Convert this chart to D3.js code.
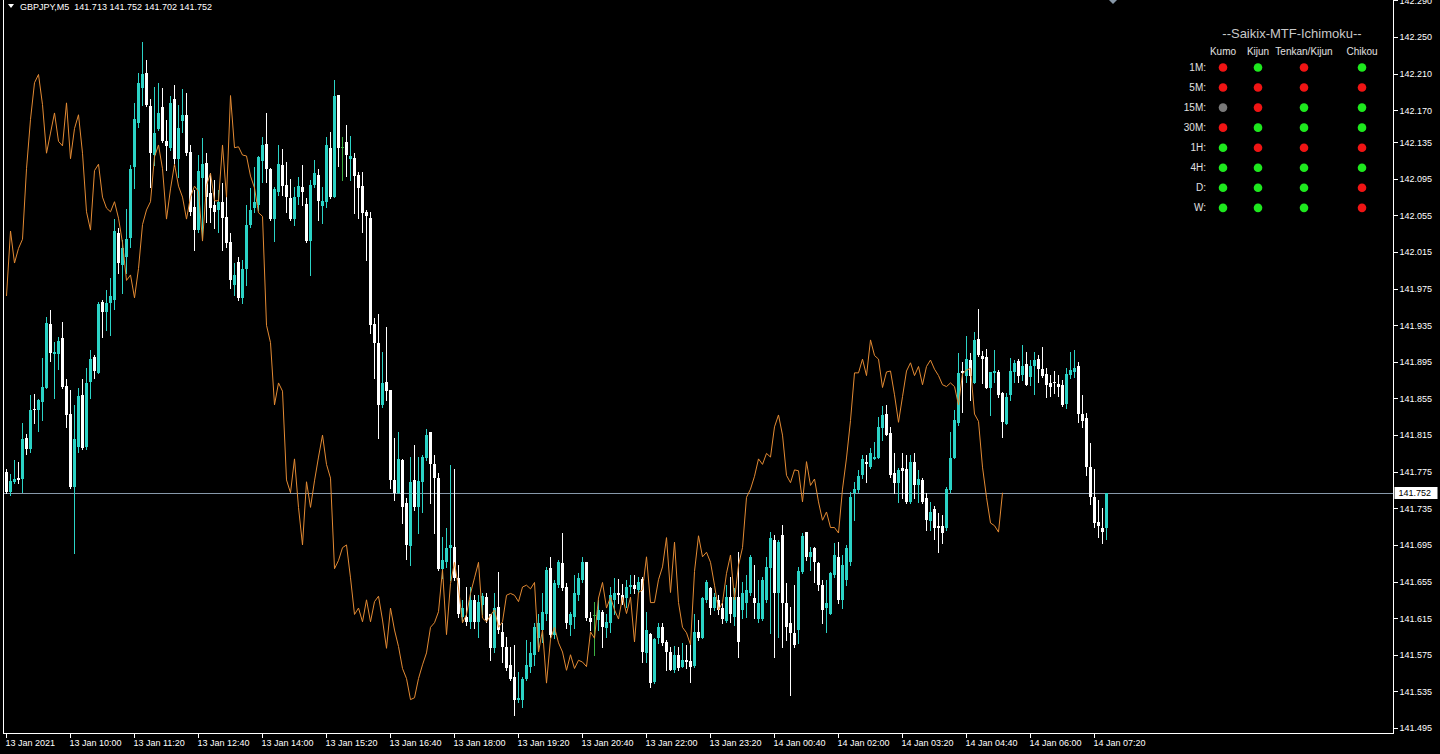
<!DOCTYPE html>
<html><head><meta charset="utf-8">
<script src="https://cdn.jsdelivr.net/npm/d3@7"></script>
<style>
html,body{margin:0;padding:0;background:#000;overflow:hidden}
svg{display:block}
text{font-family:"Liberation Sans",Arial,sans-serif}
</style></head><body>
<svg id="c" width="1440" height="754"></svg>
<script>
const symbol = "GBPJPY,M5";
const lastQuote = ["141.713","141.752","141.702","141.752"];
const lastPrice = 141.752;
const open = [141.775,141.753,141.764,141.768,141.767,141.812,141.800,141.844,141.842,141.851,141.867,141.936,141.904,141.904,141.921,141.869,141.838,141.758,141.802,141.859,141.802,141.873,141.900,141.883,141.960,141.949,141.959,141.963,142.036,142.001,142.010,142.030,142.108,142.156,142.194,142.211,142.175,142.121,142.149,142.173,142.136,142.129,142.182,142.117,142.158,142.165,142.124,142.064,142.039,142.096,142.112,142.079,142.066,142.061,142.070,142.053,142.026,141.979,142.004,141.965,141.997,142.045,142.063,142.066,142.114,142.133,142.106,142.051,142.081,142.110,142.088,142.074,142.051,142.075,142.086,142.068,142.027,142.088,142.099,142.065,142.070,142.129,142.075,142.187,142.130,142.135,142.117,142.118,142.099,142.087,142.059,142.052,141.936,141.916,141.848,141.873,141.864,141.766,141.752,141.788,141.741,141.694,141.766,141.736,141.764,141.790,141.818,141.783,141.768,141.669,141.676,141.692,141.693,141.659,141.616,141.616,141.611,141.635,141.611,141.629,141.638,141.619,141.582,141.627,141.600,141.584,141.564,141.551,141.526,141.526,141.549,141.562,141.575,141.593,141.602,141.620,141.670,141.597,141.651,141.675,141.649,141.607,141.616,141.640,141.657,141.676,141.615,141.618,141.613,141.622,141.604,141.610,141.635,141.642,141.640,141.637,141.649,141.651,141.646,141.658,141.577,141.598,141.545,141.593,141.605,141.589,141.578,141.558,141.575,141.562,141.569,141.568,141.563,141.600,141.593,141.635,141.648,141.626,141.635,141.626,141.612,141.638,141.616,141.638,141.624,141.632,141.642,141.637,141.614,141.614,141.635,141.670,141.700,141.643,141.706,141.632,141.610,141.599,141.602,141.665,141.709,141.682,141.692,141.675,141.651,141.626,141.620,141.662,141.682,141.635,141.657,141.676,141.752,141.755,141.771,141.786,141.780,141.789,141.790,141.823,141.838,141.817,141.774,141.763,141.779,141.778,141.742,141.786,141.760,141.766,141.746,141.721,141.734,141.716,141.716,141.713,141.755,141.790,141.828,141.885,141.880,141.897,141.872,141.920,141.901,141.900,141.867,141.883,141.884,141.861,141.827,141.859,141.884,141.896,141.881,141.893,141.878,141.890,141.898,141.887,141.882,141.872,141.873,141.871,141.870,141.849,141.881,141.884,141.890,141.838,141.834,141.780,141.747,141.720,141.714,141.713];
const high = [141.778,141.772,141.788,141.786,141.828,141.816,141.859,141.860,141.854,141.899,141.944,141.952,141.917,141.922,141.939,141.876,141.864,141.848,141.866,141.876,141.888,141.908,141.903,141.960,141.963,141.973,141.987,142.051,142.041,142.028,142.062,142.110,142.178,142.211,142.245,142.225,142.182,142.195,142.200,142.194,142.159,142.185,142.197,142.176,142.193,142.189,142.132,142.083,142.121,142.140,142.123,142.101,142.094,142.083,142.090,142.075,142.036,142.003,142.010,142.006,142.066,142.085,142.108,142.120,142.141,142.167,142.107,142.086,142.132,142.128,142.113,142.095,142.086,142.097,142.110,142.074,142.094,142.116,142.106,142.086,142.141,142.146,142.203,142.187,142.141,142.154,142.142,142.123,142.102,142.102,142.061,142.059,141.943,141.947,141.906,141.933,141.864,141.812,141.818,141.789,141.746,141.791,141.804,141.791,141.793,141.822,141.818,141.793,141.774,141.704,141.713,141.782,141.778,141.673,141.635,141.649,141.649,141.640,141.640,141.642,141.642,141.620,141.642,141.665,141.610,141.594,141.584,141.586,141.556,141.551,141.591,141.589,141.610,141.620,141.642,141.671,141.682,141.657,141.678,141.708,141.653,141.622,141.662,141.664,141.682,141.676,141.622,141.633,141.635,141.624,141.620,141.649,141.659,141.658,141.652,141.657,141.662,141.662,141.660,141.660,141.622,141.599,141.593,141.610,141.610,141.591,141.584,141.585,141.584,141.588,141.586,141.588,141.620,141.613,141.638,141.657,141.649,141.642,141.640,141.631,141.651,141.660,141.648,141.687,141.654,141.662,141.684,141.673,141.657,141.660,141.682,141.709,141.706,141.700,141.717,141.653,141.627,141.651,141.671,141.708,141.709,141.693,141.693,141.676,141.657,141.657,141.665,141.697,141.698,141.684,141.695,141.753,141.764,141.777,141.793,141.793,141.801,141.807,141.835,141.847,141.848,141.824,141.795,141.779,141.795,141.793,141.793,141.795,141.777,141.768,141.752,141.742,141.738,141.730,141.728,141.758,141.818,141.842,141.905,141.895,141.923,141.905,141.928,141.953,141.907,141.909,141.884,141.908,141.886,141.862,141.861,141.899,141.897,141.898,141.913,141.906,141.897,141.906,141.902,141.911,141.888,141.881,141.885,141.881,141.875,141.888,141.906,141.908,141.895,141.859,141.839,141.806,141.778,141.744,141.735,141.752];
const low = [141.752,141.750,141.763,141.763,141.753,141.794,141.796,141.828,141.820,141.831,141.867,141.896,141.855,141.887,141.867,141.824,141.757,141.686,141.796,141.800,141.800,141.855,141.877,141.883,141.922,141.930,141.924,141.953,141.992,141.970,141.992,142.020,142.085,142.152,142.176,142.175,142.086,142.110,142.148,142.135,142.105,142.126,142.109,142.097,142.146,142.121,142.055,142.017,142.037,142.028,142.048,142.048,142.041,142.037,142.017,142.020,141.976,141.968,141.963,141.959,141.979,142.042,142.059,142.061,142.092,142.092,142.050,142.027,142.077,142.077,142.059,142.050,142.045,142.068,142.066,142.026,141.990,142.086,142.050,142.047,142.064,142.074,142.075,142.109,142.094,142.098,142.094,142.058,142.052,142.037,142.006,141.927,141.877,141.812,141.846,141.853,141.757,141.744,141.752,141.719,141.680,141.673,141.733,141.708,141.731,141.788,141.741,141.708,141.668,141.659,141.671,141.657,141.657,141.616,141.611,141.607,141.604,141.604,141.594,141.620,141.611,141.569,141.578,141.599,141.567,141.558,141.547,141.509,141.523,141.518,141.547,141.556,141.564,141.580,141.589,141.613,141.594,141.593,141.649,141.646,141.604,141.597,141.604,141.635,141.655,141.613,141.602,141.575,141.602,141.583,141.594,141.600,141.620,141.631,141.630,141.627,141.642,141.642,141.642,141.567,141.567,141.540,141.544,141.588,141.586,141.558,141.558,141.556,141.558,141.562,141.561,141.545,141.562,141.591,141.593,141.633,141.620,141.624,141.620,141.610,141.611,141.611,141.607,141.572,141.615,141.616,141.640,141.615,141.611,141.613,141.633,141.599,141.572,141.594,141.583,141.591,141.531,141.583,141.588,141.664,141.678,141.668,141.655,141.646,141.610,141.600,141.620,141.660,141.631,141.626,141.651,141.673,141.722,141.753,141.768,141.764,141.779,141.789,141.790,141.810,141.815,141.769,141.752,141.742,141.746,141.741,141.741,141.746,141.742,141.741,141.711,141.711,141.702,141.687,141.697,141.711,141.753,141.790,141.826,141.840,141.873,141.853,141.872,141.901,141.872,141.867,141.837,141.873,141.857,141.813,141.827,141.853,141.873,141.873,141.875,141.870,141.870,141.860,141.873,141.878,141.857,141.858,141.861,141.858,141.847,141.845,141.877,141.878,141.829,141.824,141.771,141.740,141.715,141.704,141.697,141.702];
const close = [141.753,141.765,141.767,141.766,141.811,141.800,141.842,141.842,141.853,141.868,141.937,141.905,141.906,141.918,141.868,141.837,141.758,141.811,141.858,141.801,141.872,141.898,141.885,141.958,141.950,141.959,141.967,142.038,142.003,142.019,142.029,142.106,142.160,142.200,142.209,142.176,142.123,142.145,142.167,142.136,142.131,142.178,142.117,142.150,142.165,142.123,142.059,142.039,142.104,142.111,142.075,142.063,142.059,142.070,142.052,142.025,141.984,141.990,141.965,141.997,142.045,142.061,142.070,142.119,142.132,142.106,142.051,142.084,142.111,142.087,142.075,142.051,142.075,142.087,142.081,142.027,142.088,142.101,142.071,142.071,142.132,142.075,142.186,142.129,142.130,142.121,142.120,142.098,142.085,142.058,142.054,141.935,141.916,141.848,141.872,141.863,141.766,141.752,141.789,141.736,141.695,141.764,141.736,141.765,141.791,141.815,141.783,141.768,141.669,141.678,141.692,141.695,141.659,141.619,141.626,141.611,141.635,141.611,141.633,141.639,141.613,141.582,141.626,141.602,141.584,141.560,141.549,141.526,141.528,141.549,141.564,141.577,141.605,141.610,141.622,141.668,141.597,141.653,141.676,141.648,141.610,141.619,141.642,141.659,141.676,141.615,141.611,141.618,141.624,141.605,141.611,141.640,141.642,141.640,141.633,141.649,141.651,141.647,141.654,141.578,141.602,141.544,141.592,141.605,141.588,141.578,141.558,141.575,141.560,141.569,141.567,141.562,141.600,141.593,141.637,141.654,141.626,141.638,141.624,141.614,141.638,141.620,141.638,141.589,141.643,141.646,141.682,141.632,141.632,141.657,141.671,141.703,141.643,141.698,141.632,141.605,141.599,141.586,141.666,141.705,141.682,141.687,141.676,141.651,141.624,141.632,141.664,141.684,141.635,141.673,141.692,141.747,141.756,141.770,141.789,141.783,141.795,141.791,141.824,141.837,141.815,141.771,141.763,141.777,141.776,141.742,141.786,141.760,141.767,141.742,141.722,141.731,141.714,141.714,141.708,141.756,141.790,141.831,141.883,141.883,141.898,141.880,141.919,141.902,141.898,141.867,141.884,141.885,141.859,141.829,141.857,141.885,141.894,141.880,141.890,141.870,141.890,141.897,141.887,141.880,141.870,141.868,141.872,141.868,141.848,141.882,141.886,141.888,141.838,141.830,141.780,141.747,141.719,141.716,141.709,141.752];
const chikouShift = 26;
const priceTicks = ["142.290","142.250","142.210","142.170","142.135","142.095","142.055","142.015","141.975","141.935","141.895","141.855","141.815","141.775","141.735","141.695","141.655","141.615","141.575","141.535","141.495"];
const timeLabels = ["13 Jan 2021","13 Jan 10:00","13 Jan 11:20","13 Jan 12:40","13 Jan 14:00","13 Jan 15:20","13 Jan 16:40","13 Jan 18:00","13 Jan 19:20","13 Jan 20:40","13 Jan 22:00","13 Jan 23:20","14 Jan 00:40","14 Jan 02:00","14 Jan 03:20","14 Jan 04:40","14 Jan 06:00","14 Jan 07:20"];
const barsPerTimeLabel = 16;
const panelTitle = "--Saikix-MTF-Ichimoku--";
const panelColumns = ["Kumo","Kijun","Tenkan/Kijun","Chikou"];
const panelRows = ["1M:","5M:","15M:","30M:","1H:","4H:","D:","W:"];
const panelKumo = [-1,-1,0,-1,1,1,1,1];
const panelKijun = [1,-1,-1,1,-1,1,1,1];
const panelTenkanKijun = [-1,-1,1,1,-1,1,1,1];
const panelChikou = [1,-1,1,1,-1,1,-1,-1];

const N = close.length;
const bars = d3.range(N).map(i => ({i, o: open[i], h: high[i], l: low[i], c: close[i]}));
const svg = d3.select("#c");
svg.append("rect").attr("width",1440).attr("height",754).attr("fill","#000");

const plotL = 3.5, plotR = 1393.5, plotB = 733;
const x = d3.scaleLinear().domain([0, N-1]).range([6, 6 + 4*(N-1)]);
const y = d3.scaleLinear().domain([141.4895, 142.2904]).range([plotB, 0]);

const bullC = "#2bd3c6", bearC = "#ffffff", dojiC = "#3cb043";
const col = d => d.c > d.o ? bullC : (d.c < d.o ? bearC : dojiC);

// last price line (behind candles)
svg.append("line").attr("x1", plotL).attr("x2", plotR)
  .attr("y1", Math.round(y(lastPrice))+0.5).attr("y2", Math.round(y(lastPrice))+0.5)
  .attr("stroke", "#8799aa").attr("stroke-width", 1);

const g = svg.append("g").attr("shape-rendering","crispEdges");
g.selectAll("line.w").data(bars).join("line").attr("class","w")
  .attr("x1", d => x(d.i)+0.5).attr("x2", d => x(d.i)+0.5)
  .attr("y1", d => Math.round(y(d.h))).attr("y2", d => Math.round(y(d.l))+1)
  .attr("stroke", col).attr("stroke-width", 1);
g.selectAll("rect.b").data(bars).join("rect").attr("class","b")
  .attr("x", d => x(d.i)-1).attr("width", 3)
  .attr("y", d => Math.round(y(Math.max(d.o,d.c))))
  .attr("height", d => Math.max(1, Math.round(y(Math.min(d.o,d.c))) - Math.round(y(Math.max(d.o,d.c)))))
  .attr("fill", col);

// Chikou span: close shifted back
const chikou = d3.range(N - chikouShift).map(i => ({i, v: close[i + chikouShift]}));
svg.append("path").datum(chikou)
  .attr("d", d3.line().x(d => x(d.i)+0.5).y(d => y(d.v)))
  .attr("fill","none").attr("stroke","#e38a33").attr("stroke-width",1);

// frame
svg.append("path").attr("d", `M${plotL},0V${plotB+0.5}H${plotR}V0`)
  .attr("fill","none").attr("stroke","#fff").attr("stroke-width",1).attr("shape-rendering","crispEdges");

// right price axis
const ya = d3.axisRight(y).tickValues(priceTicks.map(Number)).tickFormat(d => d.toFixed(3)).tickSize(4).tickSizeOuter(0).tickPadding(2);
const yg = svg.append("g").attr("transform", `translate(${plotR},0)`).call(ya);
yg.select(".domain").remove();
yg.selectAll("line").attr("stroke","#fff").attr("shape-rendering","crispEdges");
yg.selectAll("text").attr("fill","#fff").attr("font-size","9px").attr("font-family","Liberation Sans, Arial, sans-serif");

// bottom time axis
const tIdx = timeLabels.map((_, k) => k * barsPerTimeLabel);
const xa = d3.axisBottom(x).tickValues(tIdx).tickFormat((d, k) => timeLabels[k]).tickSize(4).tickSizeOuter(0).tickPadding(2);
const xg = svg.append("g").attr("transform", `translate(0,${plotB+0.5})`).call(xa);
xg.select(".domain").remove();
xg.selectAll("line").attr("stroke","#fff").attr("shape-rendering","crispEdges");
xg.selectAll("text").attr("fill","#fff").attr("font-size","9px").attr("text-anchor","start").attr("dx","-1")
  .attr("font-family","Liberation Sans, Arial, sans-serif");

// last price label box
const ly = y(lastPrice);
svg.append("rect").attr("x", plotR+1).attr("y", Math.round(ly)-6).attr("width", 43).attr("height", 12).attr("fill","#fff");
svg.append("text").attr("x", plotR+5).attr("y", ly).attr("dy","0.34em").attr("font-size","9px").attr("fill","#000").text(lastPrice.toFixed(3));

// header
svg.append("path").attr("d","M8,4H14L11,8Z").attr("fill","#fff");
svg.append("text").attr("x", 20).attr("y", 10).attr("font-size","9px").attr("fill","#fff")
  .style("white-space","pre").text(symbol + "  " + lastQuote.join(" "));

// shift marker
svg.append("path").attr("d","M1109,0H1117L1113,4Z").attr("fill","#8898a8");

// MTF panel
const colX = [1223, 1258, 1304, 1362];
const rowY0 = 67.5, rowStep = 20.05;
const panel = svg.append("g").attr("font-family","Liberation Sans, Arial, sans-serif");
panel.append("text").attr("x", 1292).attr("y", 33).attr("dy","0.35em").attr("text-anchor","middle")
  .attr("font-size","13px").attr("fill","#c8c8c8").text(panelTitle);
panel.selectAll("text.hd").data(panelColumns).join("text").attr("class","hd")
  .attr("x", (d,k) => colX[k]).attr("y", 51.5).attr("dy","0.35em").attr("text-anchor","middle")
  .attr("font-size","10px").attr("fill","#e0e0e0").text(d => d);
panel.selectAll("text.rw").data(panelRows).join("text").attr("class","rw")
  .attr("x", 1206).attr("y", (d,k) => rowY0 + k*rowStep).attr("dy","0.35em").attr("text-anchor","end")
  .attr("font-size","10px").attr("fill","#e0e0e0").text(d => d);
const sigColor = v => v > 0 ? "#1ee81e" : (v < 0 ? "#f01414" : "#7a7a7a");
[panelKumo, panelKijun, panelTenkanKijun, panelChikou].forEach((arr, c) => {
  panel.selectAll(null).data(arr).join("circle")
    .attr("cx", colX[c]).attr("cy", (d,k) => rowY0 + k*rowStep).attr("r", 4.3).attr("fill", sigColor);
});
</script>
</body></html>
